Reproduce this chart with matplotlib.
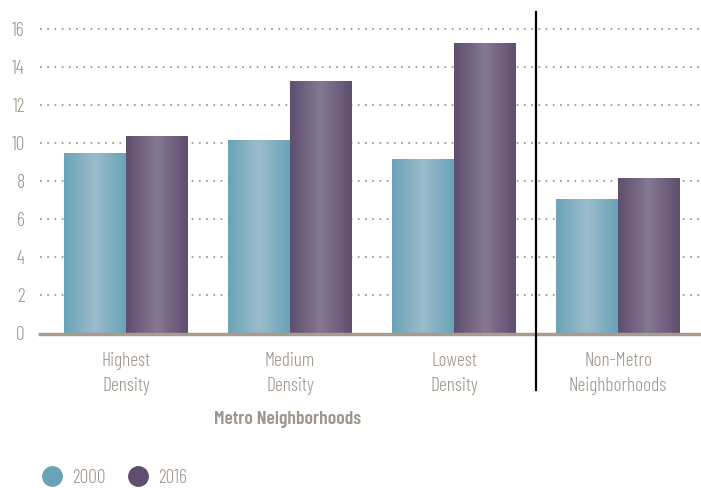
import matplotlib
matplotlib.use("Agg")
import matplotlib.pyplot as plt
import numpy as np
from matplotlib.colors import LinearSegmentedColormap
from matplotlib.lines import Line2D

# data
categories = ["Highest\nDensity", "Medium\nDensity", "Lowest\nDensity", "Non-Metro\nNeighborhoods"]
values_2000 = [9.5, 10.2, 9.2, 7.1]
values_2016 = [10.4, 13.3, 15.3, 8.2]
y_ticks = [0, 2, 4, 6, 8, 10, 12, 14, 16]

plt.rcParams['font.family'] = ['Barlow Condensed', 'DejaVu Sans']
plt.rcParams['font.weight'] = 300

text_color = '#a0958b'
grid_color = '#a89a8e'
blue_edge, blue_mid = '#6aa3b8', '#9bbccb'
purple_edge, purple_mid = '#5e4e6f', '#857892'
fs = 14

fig = plt.figure(figsize=(7.01, 4.88), dpi=100)
ax = fig.add_axes([40 / 701, 154.5 / 488, 661 / 701, 333.5 / 488])

x = np.arange(len(categories))
width = 0.378
bars_a = ax.bar(x - width / 2, values_2000, width, color=blue_edge, zorder=3)
bars_b = ax.bar(x + width / 2, values_2016, width, color=purple_edge, zorder=3)

# shaded (cylinder-like) fill inside each bar
ramp = 1 - np.abs(np.linspace(-1, 1, 200))[None, :]
for bars, c0, c1 in [(bars_a, blue_edge, blue_mid), (bars_b, purple_edge, purple_mid)]:
    cmap = LinearSegmentedColormap.from_list('g', [c0, c1])
    for p in bars:
        x0, y0 = p.get_x(), p.get_y()
        im = ax.imshow(ramp, cmap=cmap, aspect='auto', zorder=4,
                       extent=[x0, x0 + p.get_width(), y0, y0 + p.get_height()])
        im.set_clip_path(p)

ax.set_xlim(-0.524, 3.506)
ax.set_ylim(0, 17.55)
ax.set_yticks(y_ticks)
ax.set_xticks(x)
ax.set_xticklabels(categories, fontsize=fs, color=text_color, linespacing=1.55)
ax.tick_params(axis='y', labelsize=fs, labelcolor=text_color, length=0, pad=11)
ax.tick_params(axis='x', length=0, pad=13)

ax.grid(axis='y', color=grid_color, linestyle=(0, (1, 3)), linewidth=1.3, zorder=1)
for s in ['top', 'right', 'left']:
    ax.spines[s].set_visible(False)
ax.spines['bottom'].set_color(grid_color)
ax.spines['bottom'].set_linewidth(2.5)
ax.spines['bottom'].set_zorder(5)

# separator between metro and non-metro groups
ax.axvline(2.5, ymin=-0.169, ymax=0.964, color='black', linewidth=1.6, clip_on=False, zorder=6)

fig.text(288 / 701, 1 - 419 / 488, "Metro Neighborhoods", ha='center', va='center',
         fontsize=fs, fontweight=600, color=text_color)

handles = [Line2D([], [], marker='o', linestyle='none', markersize=14, color=blue_edge),
           Line2D([], [], marker='o', linestyle='none', markersize=14, color=purple_edge)]
fig.legend(handles, ['2000', '2016'], loc='center left', bbox_to_anchor=(33 / 701, 1 - 478 / 488),
           ncol=2, frameon=False, fontsize=fs, labelcolor=text_color,
           handletextpad=0.4, columnspacing=1.1, handlelength=1.2, borderaxespad=0)

fig.savefig('out.png', dpi=100)
